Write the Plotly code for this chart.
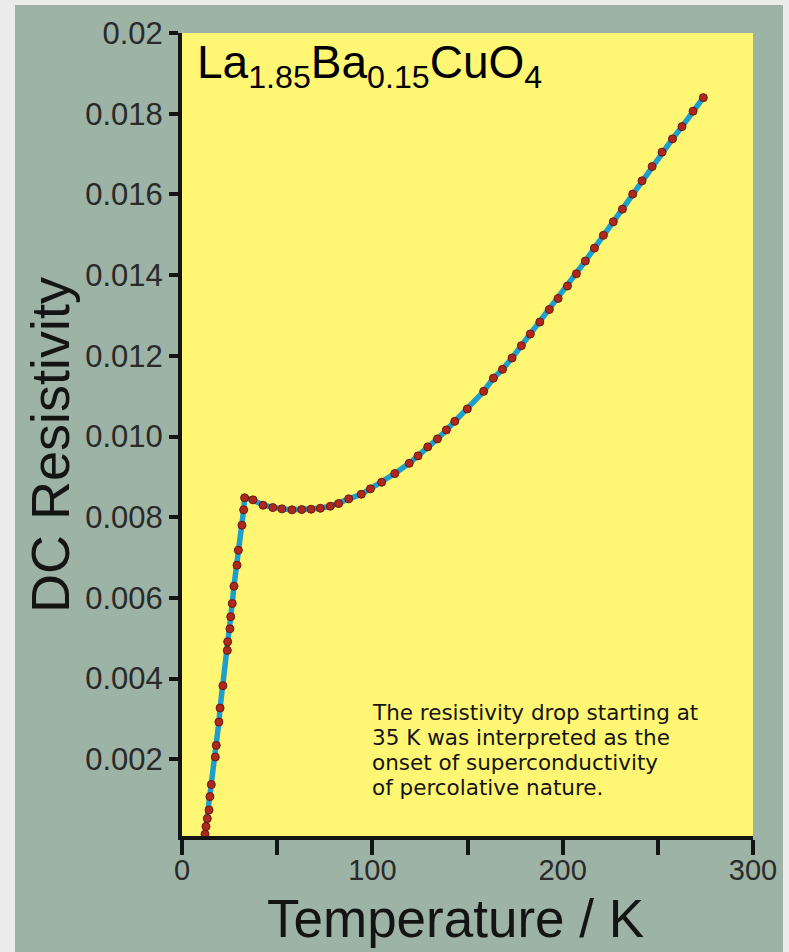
import plotly.graph_objects as go

# ---- data ----
temperature_K = [12.1, 12.6, 13.3, 14.2, 14.7, 15.4, 17.5, 18.0, 19.4, 20.0, 21.5,
                 23.8, 24.0, 25.2, 25.6, 26.4, 27.3, 28.9, 29.6, 31.5, 32.4, 32.9,
                 37.3, 42.6, 47.7, 52.5, 57.8, 62.9, 67.8, 72.7, 77.9, 82.3, 87.6,
                 94.2, 99.0, 104.9, 111.8, 119.4, 124.0, 129.1, 134.2, 138.9, 143.3,
                 149.9, 158.5, 163.6, 168.4, 173.4, 178.3, 183.0, 188.0, 193.0, 197.6,
                 202.5, 207.2, 211.9, 216.7, 221.4, 226.6, 231.4, 236.8, 241.7, 247.0,
                 252.2, 257.7, 262.7, 268.5, 273.9]
resistivity = [0.000144, 0.000334, 0.000532, 0.000745, 0.001077, 0.001374, 0.002057,
               0.002347, 0.002924, 0.003271, 0.003825, 0.004699, 0.004915, 0.005236,
               0.005534, 0.005863, 0.006291, 0.006811, 0.007183, 0.007802, 0.008183,
               0.008480, 0.008430, 0.008297, 0.008240, 0.008207, 0.008183, 0.008190,
               0.008198, 0.008222, 0.008272, 0.008339, 0.008455, 0.008569, 0.008703,
               0.008866, 0.009082, 0.009336, 0.009520, 0.009743, 0.009941, 0.010163,
               0.010376, 0.010683, 0.011119, 0.011446, 0.011664, 0.011946, 0.012251,
               0.012540, 0.012837, 0.013149, 0.013422, 0.013729, 0.014033, 0.014348,
               0.014669, 0.014986, 0.015321, 0.015635, 0.016007, 0.016336, 0.016690,
               0.017047, 0.017376, 0.017680, 0.018062, 0.018398]

x_tickvals = [0, 100, 200, 300]
x_ticktext = ["0", "100", "200", "300"]
x_minor_tickvals = [50, 150, 250]
y_tickvals = [0.002, 0.004, 0.006, 0.008, 0.010, 0.012, 0.014, 0.016, 0.018, 0.020]
y_ticktext = ["0.002", "0.004", "0.006", "0.008", "0.010", "0.012", "0.014",
              "0.016", "0.018", "0.02"]

title_text = "La<sub>1.85</sub>Ba<sub>0.15</sub>CuO<sub>4</sub>"
note_lines = ["The resistivity drop starting at",
              "35 K was interpreted as the",
              "onset of superconductivity",
              "of percolative nature."]

# ---- layout geometry ----
W, H = 789, 952
ML, MR, MT, MB = 182, 36, 33, 116
PW, PH = W - ML - MR, H - MT - MB


def px(xp):
    return (xp - ML) / PW


def py(yp):
    return (H - MB - yp) / PH


FONT = "Liberation Sans, Arial, sans-serif"
NOTE_FONT = "DejaVu Sans, Liberation Sans, sans-serif"
PANEL = "#9db3a6"
OUTER = "#ebebeb"
YELLOW = "#fff673"
INK = "#141414"

fig = go.Figure()
fig.add_trace(go.Scatter(
    x=temperature_K, y=resistivity, mode="lines+markers",
    line=dict(color="#1c9fcc", width=5.5),
    marker=dict(size=8, color="#b0281c", line=dict(color="#6a1810", width=1)),
    showlegend=False, hoverinfo="skip",
))

shapes = [
    dict(type="rect", xref="paper", yref="paper", layer="above",
         x0=px(0), x1=px(W), y0=py(0), y1=py(5), fillcolor=OUTER, line_width=0),
    dict(type="rect", xref="paper", yref="paper", layer="above",
         x0=px(0), x1=px(15), y0=py(0), y1=py(H), fillcolor=OUTER, line_width=0),
    dict(type="rect", xref="paper", yref="paper", layer="above",
         x0=px(783), x1=px(W), y0=py(0), y1=py(H), fillcolor=OUTER, line_width=0),
]

annotations = [
    dict(text=title_text, xref="paper", yref="paper", x=px(195), y=py(65),
         xanchor="left", yanchor="middle", showarrow=False,
         font=dict(family=FONT, size=46, color="#000000")),
    dict(text="DC Resistivity", xref="paper", yref="paper", x=px(50), y=py(445),
         xanchor="center", yanchor="middle", textangle=-90, showarrow=False,
         font=dict(family=FONT, size=54, color=INK)),
    dict(text="Temperature / K", xref="paper", yref="paper", x=px(455), y=py(918),
         xanchor="center", yanchor="middle", showarrow=False,
         font=dict(family=FONT, size=53, color=INK)),
]
for i, line in enumerate(note_lines):
    annotations.append(dict(
        text=line, xref="paper", yref="paper", x=px(370), y=py(712 + 25 * i),
        xanchor="left", yanchor="middle", showarrow=False,
        font=dict(family=NOTE_FONT, size=21.5, color=INK)))

fig.update_layout(
    width=W, height=H,
    margin=dict(l=ML, r=MR, t=MT, b=MB, pad=0),
    paper_bgcolor=PANEL, plot_bgcolor=YELLOW,
    shapes=shapes, annotations=annotations,
    xaxis=dict(range=[0, 300], tickvals=x_tickvals, ticktext=x_ticktext,
               ticks="outside", ticklen=15, tickwidth=3.5, tickcolor=INK,
               minor=dict(tickvals=x_minor_tickvals, ticks="outside", ticklen=15,
                          tickwidth=3.5, tickcolor=INK, showgrid=False),
               ticklabelstandoff=-10,
               showline=True, linewidth=4, linecolor=INK,
               showgrid=False, zeroline=False,
               tickfont=dict(family=FONT, size=29, color="#2a2a2a")),
    yaxis=dict(range=[0.0001, 0.02], tickvals=y_tickvals, ticktext=y_ticktext,
               ticks="outside", ticklen=9, tickwidth=3.5, tickcolor=INK,
               showline=True, linewidth=4, linecolor=INK,
               showgrid=False, zeroline=False,
               tickfont=dict(family=FONT, size=31, color="#2a2a2a")),
)

fig.write_html("out.html")
